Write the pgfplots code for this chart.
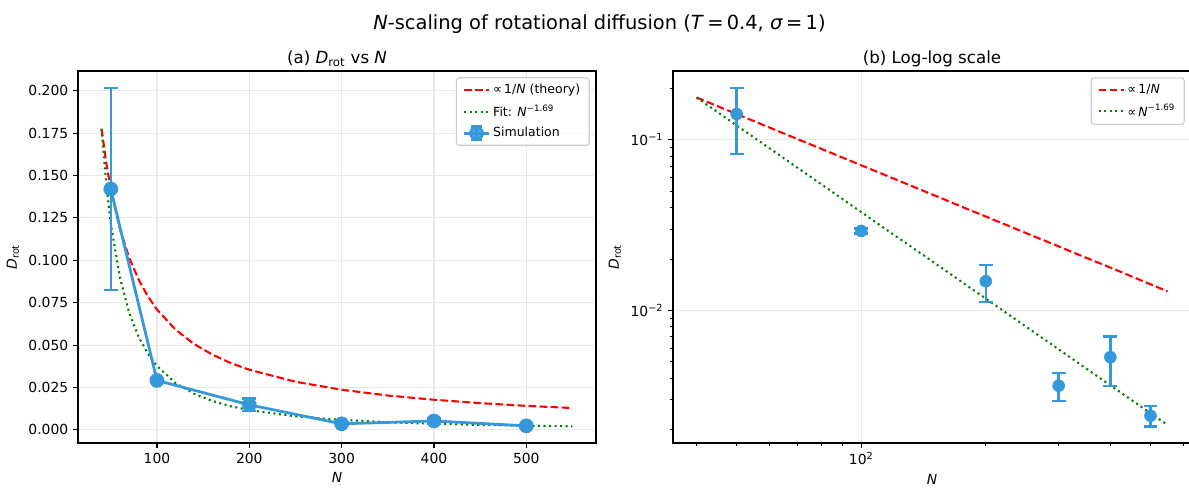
\documentclass[border=0pt]{standalone}
\usepackage{fontspec}
\setmainfont{DejaVu Sans}
\usepackage{pgfplots}
\usepackage{pgfplotstable}
\pgfplotsset{compat=1.18}
\definecolor{simblue}{HTML}{3498DB}
\definecolor{mplgreen}{rgb}{0,0.5,0}
\definecolor{gridc}{HTML}{E9E9E9}
\definecolor{legedge}{HTML}{CCCCCC}

\pgfplotstableread{
N D err
50 0.1420 0.0595
100 0.0292 0.0009
200 0.0148 0.0036
300 0.0036 0.00067
400 0.0053 0.0017
500 0.0024 0.00033
}\simdata

\pgfplotstableread{
N D
40 0.1775
45 0.1578
50 0.1420
60 0.1183
70 0.1014
80 0.0888
90 0.0789
100 0.0710
120 0.0592
140 0.0507
160 0.0444
180 0.0394
200 0.0355
250 0.0284
300 0.0237
350 0.0203
400 0.0178
450 0.0158
500 0.0142
550 0.0129
}\theory

\pgfplotstableread{
N D
40 0.1775
45 0.1455
50 0.1217
60 0.0895
70 0.0689
80 0.0550
90 0.0451
100 0.0377
120 0.0277
140 0.0214
160 0.01706
180 0.01397
200 0.01170
250 0.00802
300 0.00589
350 0.00454
400 0.00362
450 0.00297
500 0.00248
550 0.00212
}\fitdata

\pgfplotsset{
  mpl/.style={
    scale only axis, width=372.96bp, height=267.84bp,
    axis line style={line width=0.8bp, black},
    tick align=outside,
    xtick pos=bottom, ytick pos=left,
    major tick length=3.5bp, minor tick length=2bp,
    major tick style={line width=0.8bp, black},
    minor tick style={line width=0.6bp, black},
    grid=major,
    major grid style={line width=0.8bp, gridc},
    tick label style={font=\fontsize{10bp}{12bp}\selectfont},
    label style={font=\fontsize{10bp}{12bp}\selectfont},
    /pgf/number format/assume math mode=true,
    legend style={font=\fontsize{9bp}{11bp}\selectfont, draw=legedge, line width=0.8bp,
      rounded corners=2bp, fill=white, fill opacity=0.8, text opacity=1, draw opacity=1,
      at={(1,1)}, xshift=-4.5bp, yshift=-4.5bp, anchor=north east,
      cells={anchor=west}, inner xsep=4.5bp, inner ysep=2.5bp, row sep=2.5bp},
    legend image code/.code={\draw[##1] (0bp,0bp) -- (18bp,0bp);},
  },
  theorystyle/.style={red, line width=1.5bp, dash pattern=on 5.55bp off 2.4bp},
  fitstyle/.style={mplgreen, line width=1.5bp, dash pattern=on 1.5bp off 2.475bp},
  simerr/.style={
    error bars/.cd, y dir=both, y explicit,
    error bar style={line width=1.8bp, simblue, solid},
    error mark options={simblue, line width=1.8bp, mark size=5bp, rotate=90, solid}},
}

\begin{document}
\begin{tikzpicture}
\path[use as bounding box] (0,0) rectangle (856.08bp,351.36bp);

% ---------- (a) linear ----------
\begin{axis}[mpl,
  at={(56.16bp,32.4bp)}, anchor=south west,
  xmin=14.5, xmax=575.5, ymin=-0.0077, ymax=0.2116,
  xtick={100,200,300,400,500},
  ytick={0,0.025,0.05,0.075,0.1,0.125,0.15,0.175,0.2},
  yticklabel style={/pgf/number format/.cd, fixed, fixed zerofill, precision=3},
  scaled y ticks=false,
  xlabel={\textit{N}}, ylabel={\textit{D}\textsubscript{rot}},
]
\addplot[theorystyle] table[x=N,y=D] {\theory};
\addlegendentry{∝\,1/\textit{N} (theory)}
\addplot[fitstyle] table[x=N,y=D] {\fitdata};
\addlegendentry{Fit: \textit{N}\textsuperscript{−1.69}}
\addplot[simblue, line width=2bp, mark=*, mark size=4.3bp,
  mark options={solid, fill=simblue, draw=simblue},
  legend image code/.code={
    \draw[simblue, line width=2bp] (0bp,0bp) -- (18bp,0bp);
    \draw[simblue, line width=1.8bp] (9bp,-5bp) -- (9bp,5bp) (5bp,-5bp) -- (13bp,-5bp) (5bp,5bp) -- (13bp,5bp);
    \fill[simblue] (9bp,0bp) circle (4.3bp);
  },
  simerr]
  table[x=N, y=D, y error=err] {\simdata};
\addlegendentry{Simulation}
\end{axis}

% ---------- (b) log-log ----------
\begin{axis}[mpl,
  at={(484.56bp,32.4bp)}, anchor=south west,
  xmode=log, ymode=log,
  xmin=35.1, xmax=626.6, ymin=0.00166, ymax=0.254,
  xtick={100}, xticklabels={10\textsuperscript{2}},
  minor xtick={40,50,60,70,80,90,200,300,400,500,600},
  ytick={0.01,0.1}, yticklabels={10\textsuperscript{−2},10\textsuperscript{−1}},
  minor ytick={0.002,0.003,0.004,0.005,0.006,0.007,0.008,0.009,0.02,0.03,0.04,0.05,0.06,0.07,0.08,0.09,0.2},
  xlabel={\textit{N}}, ylabel={\textit{D}\textsubscript{rot}},
]
\addplot[theorystyle] table[x=N,y=D] {\theory};
\addlegendentry{∝\,1/\textit{N}}
\addplot[fitstyle] table[x=N,y=D] {\fitdata};
\addlegendentry{∝\,\textit{N}\textsuperscript{−1.69}}
\addplot[simblue, only marks, mark=*, mark size=4.3bp,
  mark options={solid, fill=simblue, draw=simblue},
  forget plot, simerr]
  table[x=N, y=D, y error=err] {\simdata};
\end{axis}

% titles
\node[anchor=base, font=\fontsize{12bp}{14bp}\selectfont] at (242.64bp,305.6bp) {(a) \textit{D}\textsubscript{rot} vs \textit{N}};
\node[anchor=base, font=\fontsize{12bp}{14bp}\selectfont] at (671.04bp,305.6bp) {(b) Log-log scale};
\node[anchor=base, font=\fontsize{14bp}{17bp}\selectfont] at (431.6bp,329.8bp) {\textit{N}-scaling of rotational diffusion (\textit{T}\,=\,0.4, \textit{σ}\,=\,1)};
\end{tikzpicture}
\end{document}
